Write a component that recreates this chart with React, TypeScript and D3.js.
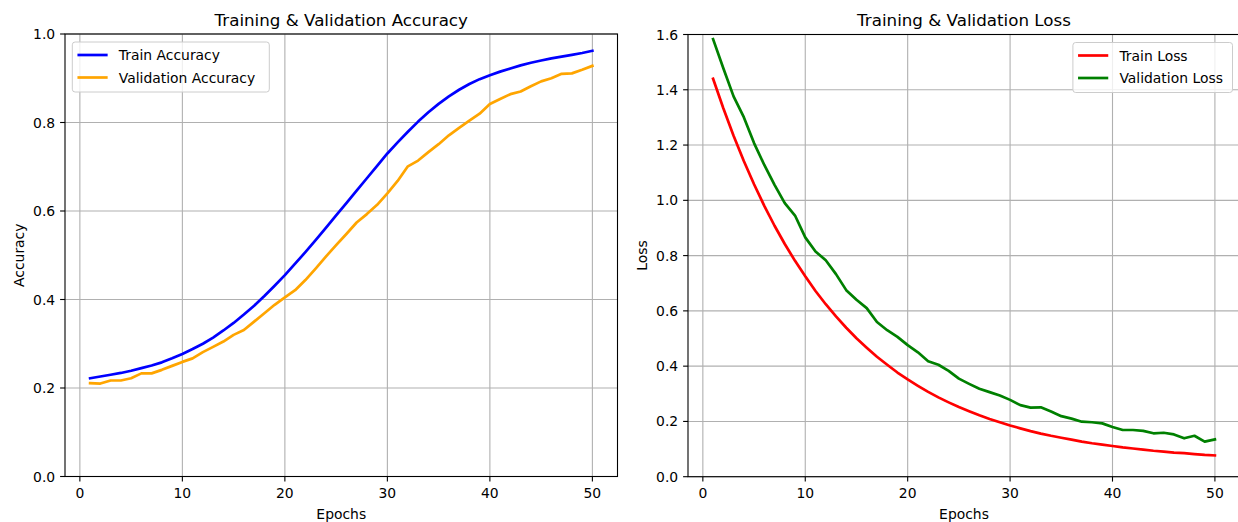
import React from 'react';
import * as d3 from 'd3';

const epochs: number[] = Array.from({ length: 50 }, (_, i) => i + 1);

const trainAcc = [
  0.222, 0.226, 0.230, 0.234, 0.239, 0.245, 0.251, 0.258, 0.267, 0.277,
  0.288, 0.300, 0.314, 0.330, 0.347, 0.366, 0.386, 0.408, 0.431, 0.455,
  0.481, 0.507, 0.534, 0.562, 0.590, 0.618, 0.646, 0.674, 0.702, 0.730,
  0.755, 0.779, 0.802, 0.823, 0.842, 0.859, 0.874, 0.887, 0.898, 0.907,
  0.915, 0.922, 0.929, 0.935, 0.940, 0.945, 0.949, 0.953, 0.957, 0.962,
];
const valAcc = [
  0.211, 0.210, 0.217, 0.217, 0.222, 0.233, 0.233, 0.241, 0.250, 0.259,
  0.267, 0.281, 0.293, 0.305, 0.320, 0.331, 0.350, 0.369, 0.388, 0.405,
  0.421, 0.444, 0.470, 0.497, 0.523, 0.548, 0.574, 0.593, 0.614, 0.640,
  0.668, 0.701, 0.714, 0.733, 0.751, 0.771, 0.788, 0.804, 0.820, 0.842,
  0.853, 0.864, 0.870, 0.882, 0.893, 0.900, 0.910, 0.911, 0.919, 0.928,
];
const trainLoss = [
  1.440, 1.333, 1.234, 1.142, 1.058, 0.980, 0.908, 0.842, 0.781, 0.725,
  0.672, 0.624, 0.580, 0.539, 0.501, 0.467, 0.434, 0.405, 0.377, 0.352,
  0.329, 0.307, 0.287, 0.269, 0.252, 0.237, 0.222, 0.209, 0.197, 0.185,
  0.175, 0.165, 0.156, 0.148, 0.141, 0.134, 0.127, 0.121, 0.116, 0.111,
  0.106, 0.102, 0.098, 0.094, 0.091, 0.087, 0.085, 0.082, 0.079, 0.077,
];
const valLoss = [
  1.583, 1.478, 1.376, 1.301, 1.207, 1.128, 1.056, 0.990, 0.945, 0.866,
  0.815, 0.783, 0.733, 0.675, 0.640, 0.610, 0.560, 0.530, 0.506, 0.476,
  0.450, 0.418, 0.405, 0.383, 0.355, 0.336, 0.318, 0.306, 0.294, 0.278,
  0.259, 0.250, 0.251, 0.236, 0.219, 0.210, 0.199, 0.197, 0.193, 0.180,
  0.169, 0.169, 0.166, 0.157, 0.159, 0.153, 0.139, 0.148, 0.127, 0.135,
];

const xTicks = [0, 10, 20, 30, 40, 50];
const accTicks = [0.0, 0.2, 0.4, 0.6, 0.8, 1.0];
const lossTicks = [0.0, 0.2, 0.4, 0.6, 0.8, 1.0, 1.2, 1.4, 1.6];

const FONT = '"DejaVu Sans", Verdana, sans-serif';

type Series = { name: string; values: number[]; color: string };

type PanelProps = {
  left: number;
  right: number;
  top: number;
  bottom: number;
  yDomain: [number, number];
  yTicks: number[];
  series: Series[];
  title: string;
  ylabel: string;
  legendSide: 'left' | 'right';
  legendWidth: number;
};

function Panel(p: PanelProps) {
  const x = d3.scaleLinear().domain([-1.45, 52.45]).range([p.left, p.right]);
  const y = d3.scaleLinear().domain(p.yDomain).range([p.bottom, p.top]);
  const line = (vals: number[]) =>
    d3
      .line<number>()
      .x((_, i) => x(epochs[i]))
      .y((d) => y(d))(vals) || '';
  const fmt = d3.format('.1f');
  const grid = '#b0b0b0';
  const legX = p.legendSide === 'left' ? p.left + 7.3 : p.right - 7.5 - p.legendWidth;
  const legY = p.top + 8;
  const maxLabelW = 22.1;
  const ylabelX = p.left - 9.8 - maxLabelW - 5.6 - 3.3;
  const cx = (p.left + p.right) / 2;
  return (
    <g>
      {/* grid */}
      {xTicks.map((t) => (
        <line key={'gx' + t} x1={x(t)} x2={x(t)} y1={p.top} y2={p.bottom} stroke={grid} strokeWidth={1.1} />
      ))}
      {p.yTicks.map((t) => (
        <line key={'gy' + t} x1={p.left} x2={p.right} y1={y(t)} y2={y(t)} stroke={grid} strokeWidth={1.1} />
      ))}
      {/* series */}
      {p.series.map((s) => (
        <path key={s.name} d={line(s.values)} fill="none" stroke={s.color} strokeWidth={2.7} strokeLinejoin="round" strokeLinecap="square" />
      ))}
      {/* spines */}
      <rect x={p.left} y={p.top} width={p.right - p.left} height={p.bottom - p.top} fill="none" stroke="#000" strokeWidth={1.1} />
      {/* x ticks */}
      {xTicks.map((t) => (
        <g key={'xt' + t}>
          <line x1={x(t)} x2={x(t)} y1={p.bottom} y2={p.bottom + 4.9} stroke="#000" strokeWidth={1.1} />
          <text x={x(t)} y={p.bottom + 21.5} textAnchor="middle" fontSize={13.9} fontFamily={FONT} fill="#000">
            {t}
          </text>
        </g>
      ))}
      {/* y ticks */}
      {p.yTicks.map((t) => (
        <g key={'yt' + t}>
          <line x1={p.left - 4.9} x2={p.left} y1={y(t)} y2={y(t)} stroke="#000" strokeWidth={1.1} />
          <text x={p.left - 9.8} y={y(t) + 5} textAnchor="end" fontSize={13.9} fontFamily={FONT} fill="#000">
            {fmt(t)}
          </text>
        </g>
      ))}
      {/* title */}
      <text x={cx} y={p.top - 8.5} textAnchor="middle" fontSize={16.7} fontFamily={FONT} fill="#000">
        {p.title}
      </text>
      {/* x label */}
      <text x={cx} y={p.bottom + 42.5} textAnchor="middle" fontSize={13.9} fontFamily={FONT} fill="#000">
        Epochs
      </text>
      {/* y label */}
      <text
        transform={`translate(${ylabelX},${(p.top + p.bottom) / 2}) rotate(-90)`}
        textAnchor="middle"
        fontSize={13.9}
        fontFamily={FONT}
        fill="#000"
      >
        {p.ylabel}
      </text>
      {/* legend */}
      <g>
        <rect x={legX} y={legY} width={p.legendWidth} height={50} rx={2.8} ry={2.8} fill="#fff" fillOpacity={0.8} stroke="#cccccc" strokeWidth={1} />
        {p.series.map((s, i) => {
          const ry = legY + 13 + i * 22.5;
          return (
            <g key={'lg' + s.name}>
              <line x1={legX + 6.5} x2={legX + 34} y1={ry} y2={ry} stroke={s.color} strokeWidth={2.7} strokeLinecap="square" />
              <text x={legX + 46.5} y={ry + 5} fontSize={13.9} fontFamily={FONT} fill="#000">
                {s.name}
              </text>
            </g>
          );
        })}
      </g>
    </g>
  );
}

export default function App() {
  return (
    <svg
      width={1238}
      height={522}
      style={{ position: 'fixed', left: 0, top: 0, background: '#fff' }}
      xmlns="http://www.w3.org/2000/svg"
    >
      <rect x={0} y={0} width={1238} height={522} fill="#fff" />
      <Panel
        left={65}
        right={617.5}
        top={34}
        bottom={476.5}
        yDomain={[0, 1]}
        yTicks={accTicks}
        series={[
          { name: 'Train Accuracy', values: trainAcc, color: '#0000ff' },
          { name: 'Validation Accuracy', values: valAcc, color: '#ffa500' },
        ]}
        title="Training & Validation Accuracy"
        ylabel="Accuracy"
        legendSide="left"
        legendWidth={197}
      />
      <Panel
        left={688}
        right={1240}
        top={34.5}
        bottom={476.7}
        yDomain={[0, 1.6]}
        yTicks={lossTicks}
        series={[
          { name: 'Train Loss', values: trainLoss, color: '#ff0000' },
          { name: 'Validation Loss', values: valLoss, color: '#008000' },
        ]}
        title="Training & Validation Loss"
        ylabel="Loss"
        legendSide="right"
        legendWidth={159.6}
      />
    </svg>
  );
}
